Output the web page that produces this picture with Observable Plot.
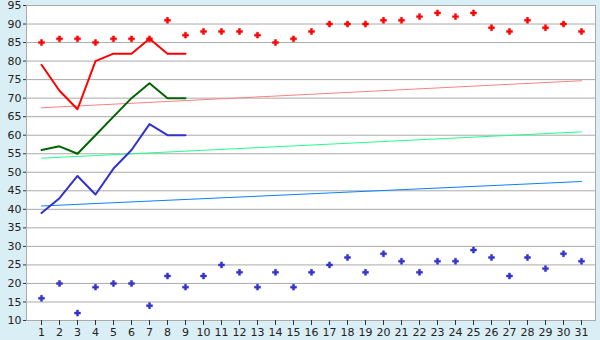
<!DOCTYPE html>
<html>
<head>
<meta charset="utf-8">
<script src="https://cdn.jsdelivr.net/npm/d3@7"></script>
<script src="https://cdn.jsdelivr.net/npm/@observablehq/plot@0.6"></script>
<style>
  html, body { margin: 0; padding: 0; background: #daeef5; }
  #chart svg { display: block; }
</style>
</head>
<body>
<div id="chart"></div>
<script>
const days = [1,2,3,4,5,6,7,8,9,10,11,12,13,14,15,16,17,18,19,20,21,22,23,24,25,26,27,28,29,30,31];
const yTicks = [10,15,20,25,30,35,40,45,50,55,60,65,70,75,80,85,90,95];

// scattered daily highs / lows
const highPoints = [85,86,86,85,86,86,86,91,87,88,88,88,87,85,86,88,90,90,90,91,91,92,93,92,93,89,88,91,89,90,88];
const lowPoints  = [16,20,12,19,20,20,14,22,19,22,25,23,19,23,19,23,25,27,23,28,26,23,26,26,29,27,22,27,24,28,26];

// partial-month lines (days 1-9)
const lineDays  = [1,2,3,4,5,6,7,8,9];
const redLine   = [79,72,67,80,82,82,86,82,82];
const greenLine = [56,57,55,60,65,70,74,70,70];
const blueLine  = [39,43,49,44,51,56,63,60,60];

// trend lines (start, end)
const trendDays  = [1,31];
const trendRed   = [67.4,74.7];
const trendGreen = [53.8,60.9];
const trendBlue  = [40.9,47.5];

const pts = (xs, ys) => xs.map((x,i) => ({x, y: ys[i]}));

const chart = Plot.plot({
  width: 600,
  height: 340,
  marginLeft: 26,
  marginRight: 5,
  marginTop: 5,
  marginBottom: 20,
  style: {background: "transparent", fontFamily: "DejaVu Sans", fontSize: "11px", color: "#222"},
  x: {type: "point", domain: days, padding: 0.5},
  y: {domain: [10,95]},
  marks: [
    Plot.frame({fill: "white"}),
    Plot.ruleY(yTicks, {stroke: "#aaaaaa", strokeWidth: 1}),
    Plot.frame({stroke: "#aaaaaa"}),
    Plot.line(pts(trendDays, trendRed),   {x: "x", y: "y", stroke: "#ff8080", strokeWidth: 1}),
    Plot.line(pts(trendDays, trendGreen), {x: "x", y: "y", stroke: "#22ff88", strokeWidth: 1}),
    Plot.line(pts(trendDays, trendBlue),  {x: "x", y: "y", stroke: "#0a80ff", strokeWidth: 1}),
    Plot.line(pts(lineDays, redLine),   {x: "x", y: "y", stroke: "#ff0000", strokeWidth: 2}),
    Plot.line(pts(lineDays, greenLine), {x: "x", y: "y", stroke: "#006400", strokeWidth: 2}),
    Plot.line(pts(lineDays, blueLine),  {x: "x", y: "y", stroke: "#3333cc", strokeWidth: 2}),
    Plot.dot(pts(days, highPoints), {x: "x", y: "y", symbol: "cross", r: 2.5, fill: "#ff0000", stroke: "#ff0000", strokeWidth: 0.5}),
    Plot.dot(pts(days, lowPoints),  {x: "x", y: "y", symbol: "cross", r: 2.5, fill: "#3333cc", stroke: "#3333cc", strokeWidth: 0.5}),
    Plot.axisY({ticks: yTicks, tickSize: 3, tickPadding: 2, label: null, stroke: "#333"}),
    Plot.axisX({tickSize: 5, tickPadding: 3, label: null, stroke: "#333"})
  ]
});
document.getElementById("chart").appendChild(chart);
</script>
</body>
</html>
